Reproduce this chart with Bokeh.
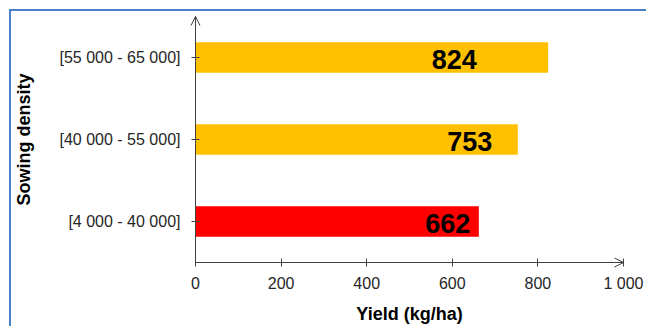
from bokeh.plotting import figure
from bokeh.models import Range1d, FixedTicker, ColumnDataSource, Arrow, OpenHead
from bokeh.core.properties import value
from bokeh.embed import file_html
from bokeh.resources import INLINE

# ---- data ----
densities = ["[4 000 - 40 000]", "[40 000 - 55 000]", "[55 000 - 65 000]"]
yields = [662, 753, 824]
bar_colors = ["#FF0000", "#FFC000", "#FFC000"]
x_ticks = [0, 200, 400, 600, 800, 1000]
x_tick_labels = ["0", "200", "400", "600", "800", "1 000"]
x_title = "Yield (kg/ha)"
y_title = "Sowing density"

# ---- style / layout (pixels inside the figure canvas) ----
label_shift_px = [-31, -48, -94]
AXIS = "#404040"
FONT = "Liberation Sans"
BORDER = "#4A7EC9"
W, H = 637, 317
AX_L, AX_R = 184, 612      # pixel of x = first tick / last tick
AX_T, AX_B = 5, 251        # pixel of top / bottom of the category axis

n = len(densities)
pos = list(range(n))
x_min, x_max = x_ticks[0], x_ticks[-1]
y_min, y_max = -0.5, n - 0.5
sx = (x_max - x_min) / (AX_R - AX_L)
sy = (y_max - y_min) / (AX_B - AX_T)
x_range = Range1d(x_min - AX_L * sx, x_max + (W - AX_R) * sx)
y_range = Range1d(y_min - (H - AX_B) * sy, y_max + AX_T * sy)

src = ColumnDataSource(dict(y=pos, v=yields, c=bar_colors,
                            t=[str(v) for v in yields], dx=label_shift_px))

p = figure(width=W, height=H, output_backend="svg", toolbar_location=None,
           x_range=x_range, y_range=y_range,
           min_border_left=0, min_border_right=0, min_border_top=0,
           min_border_bottom=0)
p.margin = (9, 0, 0, 9)
p.styles = {"border-left": "2px solid " + BORDER, "border-top": "2px solid " + BORDER}

p.hbar(y="y", left=0, right="v", height=0.37, fill_color="c", line_color=None,
       source=src)
p.text(x="v", y="y", text="t", x_offset="dx", y_offset=2, source=src,
       text_align="center", text_baseline="middle", text_font=value(FONT),
       text_font_style="bold", text_font_size="27px", text_color="black")

p.xgrid.visible = False
p.ygrid.visible = False
p.outline_line_color = None

xa = p.xaxis[0]
xa.ticker = FixedTicker(ticks=x_ticks)
xa.major_label_overrides = dict(zip(x_ticks, x_tick_labels))
xa.axis_label = x_title
xa.fixed_location = y_min
xa.bounds = (x_min, x_max)
ya = p.yaxis[0]
ya.ticker = FixedTicker(ticks=pos)
ya.major_label_overrides = dict(zip(pos, densities))
ya.axis_label = y_title
ya.fixed_location = x_min
ya.bounds = (y_min, y_max)

for ax in (xa, ya):
    ax.axis_line_color = AXIS
    ax.major_tick_line_color = AXIS
    ax.minor_tick_line_color = None
    ax.major_tick_in = 4
    ax.major_tick_out = 4
    ax.major_label_text_font = FONT
    ax.major_label_text_font_size = "16px"
    ax.major_label_text_color = "#262626"
    ax.axis_label_text_font = FONT
    ax.axis_label_text_font_size = "18px"
    ax.axis_label_text_font_style = "bold"
    ax.axis_label_text_color = "black"
xa.major_label_standoff = 8
xa.axis_label_standoff = 9
ya.major_label_standoff = 11
ya.axis_label_standoff = 23

p.add_layout(Arrow(end=OpenHead(size=9, line_color=AXIS, line_width=1),
                   x_start=x_min, y_start=y_min, x_end=x_max, y_end=y_min,
                   line_color=AXIS, line_width=1))
p.add_layout(Arrow(end=OpenHead(size=9, line_color=AXIS, line_width=1),
                   x_start=x_min, y_start=y_min, x_end=x_min, y_end=y_max,
                   line_color=AXIS, line_width=1))

open("out.html", "w").write(file_html(p, INLINE))
